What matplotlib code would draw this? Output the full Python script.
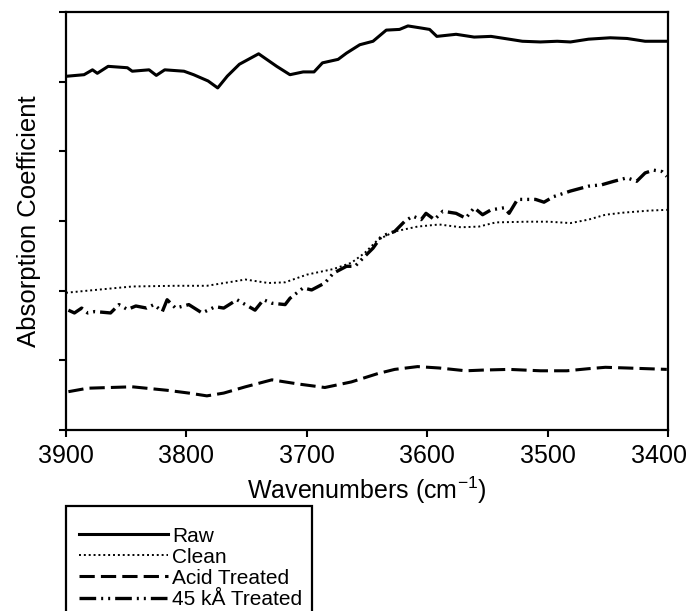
import matplotlib
matplotlib.use("Agg")
import matplotlib.pyplot as plt
import matplotlib.transforms as mtransforms
from matplotlib.patches import Rectangle
from matplotlib.lines import Line2D

plt.rcParams['font.family'] = ['Liberation Sans', 'DejaVu Sans']

# Raw
raw_w = [3898, 3885, 3878, 3874, 3865, 3849, 3845, 3831, 3825, 3818, 3802, 3794,
         3782, 3774, 3766, 3756, 3740, 3725, 3714, 3703, 3694, 3687, 3674, 3667,
         3656, 3645, 3634, 3623, 3616, 3605, 3598, 3592, 3576, 3561, 3547, 3532,
         3521, 3506, 3492, 3481, 3466, 3448, 3434, 3419, 3401]
raw_v = [5.08, 5.10, 5.17, 5.12, 5.22, 5.20, 5.15, 5.17, 5.09, 5.17, 5.15, 5.10,
         5.01, 4.91, 5.08, 5.25, 5.40, 5.22, 5.10, 5.14, 5.14, 5.27, 5.32, 5.41,
         5.53, 5.58, 5.74, 5.75, 5.80, 5.77, 5.75, 5.65, 5.68, 5.64, 5.65, 5.61,
         5.58, 5.57, 5.58, 5.57, 5.61, 5.63, 5.62, 5.58, 5.58]

# Clean
clean_w = [3900, 3882, 3845, 3809, 3783, 3765, 3751, 3732, 3718, 3700, 3678, 3663,
           3652, 3641, 3627, 3608, 3590, 3572, 3557, 3543, 3517, 3499, 3481, 3466,
           3452, 3437, 3415, 3401]
clean_v = [1.97, 2.00, 2.06, 2.07, 2.07, 2.12, 2.16, 2.11, 2.12, 2.23, 2.31, 2.40,
           2.54, 2.73, 2.85, 2.92, 2.95, 2.91, 2.92, 2.98, 2.99, 2.99, 2.97, 3.02,
           3.09, 3.12, 3.15, 3.16]

# Acid Treated
acid_w = [3898, 3882, 3845, 3816, 3798, 3783, 3769, 3751, 3729, 3707, 3685, 3663,
          3641, 3627, 3608, 3590, 3568, 3554, 3532, 3506, 3484, 3466, 3452, 3434, 3401]
acid_v = [0.55, 0.60, 0.62, 0.57, 0.53, 0.49, 0.53, 0.62, 0.72, 0.66, 0.61, 0.69,
          0.81, 0.87, 0.91, 0.89, 0.85, 0.86, 0.87, 0.85, 0.85, 0.88, 0.90, 0.89, 0.87]

# 45 kA Treated
ka_w = [3898, 3893, 3887, 3882, 3876, 3863, 3856, 3849, 3842, 3833, 3827, 3820,
        3816, 3809, 3798, 3787, 3776, 3769, 3758, 3751, 3743, 3736, 3729, 3718,
        3714, 3703, 3696, 3685, 3678, 3667, 3660, 3652, 3645, 3638, 3627, 3619,
        3612, 3605, 3601, 3594, 3587, 3576, 3568, 3561, 3554, 3547, 3536, 3532,
        3525, 3510, 3503, 3495, 3481, 3466, 3455, 3445, 3434, 3426, 3419, 3412,
        3405, 3401]
ka_v = [1.72, 1.68, 1.75, 1.68, 1.70, 1.68, 1.80, 1.73, 1.78, 1.75, 1.80, 1.70,
        1.87, 1.75, 1.80, 1.68, 1.77, 1.75, 1.87, 1.80, 1.72, 1.87, 1.82, 1.80,
        1.89, 2.04, 2.01, 2.11, 2.25, 2.35, 2.35, 2.49, 2.61, 2.78, 2.85, 2.99,
        3.07, 3.02, 3.11, 3.02, 3.14, 3.11, 3.04, 3.19, 3.09, 3.16, 3.19, 3.11,
        3.31, 3.31, 3.27, 3.35, 3.43, 3.50, 3.52, 3.57, 3.62, 3.57, 3.69, 3.73,
        3.71, 3.64]

x_ticks = [3900, 3800, 3700, 3600, 3500, 3400]
labels = ['Raw', 'Clean', 'Acid Treated', '45 kÅ Treated']

fig = plt.figure(figsize=(6.88, 6.11), dpi=100)
ax = fig.add_axes([66 / 688, 1 - 430 / 611, 602 / 688, 418 / 611])

styles = [
    dict(ls='-', lw=2.2),
    dict(ls=(0, (1, 1.5)), lw=1.4),
    dict(ls=(0, (5, 2)), lw=2.2),
    dict(ls=(0, (5, 1.5, 0.6, 1.5, 0.6, 1.5)), lw=2.4),
]
series = [(raw_w, raw_v), (clean_w, clean_v), (acid_w, acid_v), (ka_w, ka_v)]
for (w, v), st, lab in zip(series, styles, labels):
    ax.plot(w, v, color='black', label=lab, **st)

ax.set_xlim(3900, 3400)
ax.set_ylim(0, 6)
ax.set_xticks(x_ticks)
ax.set_yticks(range(7))
ax.set_yticklabels([])
ax.tick_params(direction='out', length=5, width=1.5, labelsize=18, pad=5)
for s in ax.spines.values():
    s.set_linewidth(1.6)
# keep the last tick label inside the figure, as in the original
last = ax.get_xticklabels()[-1]
last.set_transform(last.get_transform() +
                   mtransforms.ScaledTranslation(-9 / 100, 0, fig.dpi_scale_trans))
ax.set_xlabel('Wavenumbers (cm$^{\\mathregular{-1}}$)', fontsize=18, labelpad=5)
ax.set_ylabel('Absorption Coefficient', fontsize=18.5, labelpad=8)

# legend box (runs off the bottom of the figure)
fig.patches.append(Rectangle((66 / 688, -0.05), 246 / 688, 0.05 + (611 - 506) / 611,
                             transform=fig.transFigure, fill=False,
                             edgecolor='black', lw=1.6))
handles = [Line2D([], [], color='black', **st) for st in styles]
fig.legend(handles, labels, loc='upper left', bbox_to_anchor=(64 / 688, 1 - 512 / 611),
           frameon=False, fontsize=15, handlelength=4.3, handletextpad=0.2,
           labelspacing=0.1, borderpad=0.2)

fig.savefig('out.png', dpi=100)
